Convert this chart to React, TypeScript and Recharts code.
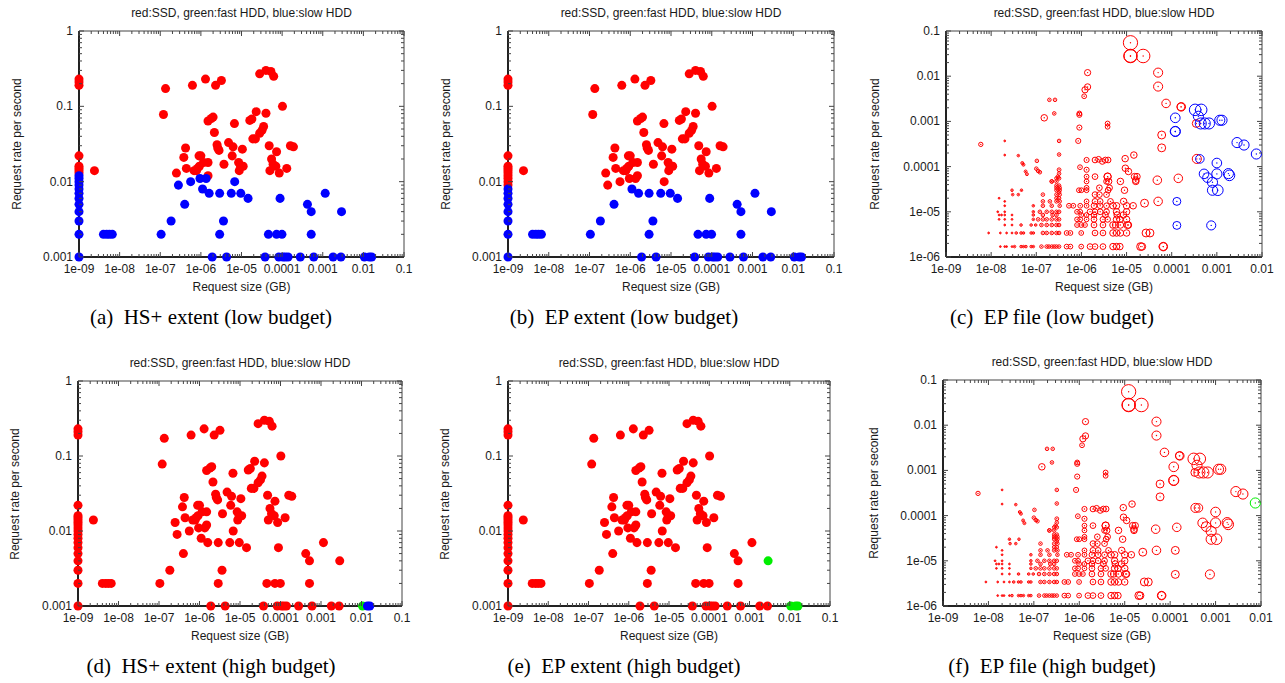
import React from 'react';
import { ScatterChart, Scatter, XAxis, YAxis, ZAxis, ReferenceArea } from 'recharts';

type Pt = [number, number];
type Bub = [number, number, number];

// axis ticks
const extentXMajors = [1e-9, 1e-8, 1e-7, 1e-6, 1e-5, 1e-4, 1e-3, 1e-2, 1e-1];
const extentXLabels = ['1e-09', '1e-08', '1e-07', '1e-06', '1e-05', '0.0001', '0.001', '0.01', '0.1'];
const extentYMajors = [1e-3, 1e-2, 1e-1, 1];
const extentYLabels = ['0.001', '0.01', '0.1', '1'];
const fileXMajors = [1e-9, 1e-8, 1e-7, 1e-6, 1e-5, 1e-4, 1e-3, 1e-2];
const fileXLabels = ['1e-09', '1e-08', '1e-07', '1e-06', '1e-05', '0.0001', '0.001', '0.01'];
const fileYMajors = [1e-6, 1e-5, 1e-4, 1e-3, 1e-2, 1e-1];
const fileYLabels = ['1e-06', '1e-05', '0.0001', '0.001', '0.01', '0.1'];
const minorSteps = [2, 3, 4, 5, 6, 7, 8, 9];

// extent plots: [request size GB, request rate]
const extentRedAll: Pt[] = [
  [1e-9, 0.23], [1e-9, 0.21], [1e-9, 0.19], [1e-9, 0.022], [1e-9, 0.016], [1e-9, 0.015], [1e-9, 0.014], [1e-9, 0.013],
  [2.4e-9, 0.014], [1.2e-7, 0.078], [1.35e-7, 0.172], [2.5e-7, 0.013], [3.8e-7, 0.021], [4.2e-7, 0.028],
  [4.4e-7, 0.015], [6.2e-7, 0.19], [6.8e-7, 0.014], [7.8e-7, 0.014], [8.2e-7, 0.015], [9e-7, 0.022],
  [1.0e-6, 0.022], [9.2e-7, 0.016], [1.16e-6, 0.018], [1.5e-6, 0.018], [1.5e-6, 0.012], [1.3e-6, 0.23],
  [1.5e-6, 0.064], [1.8e-6, 0.069], [2.0e-6, 0.072], [2.15e-6, 0.045], [2.3e-6, 0.19], [2.5e-6, 0.031],
  [2.6e-6, 0.028], [2.8e-6, 0.026], [3.2e-6, 0.22], [3.7e-6, 0.017], [4.8e-6, 0.033], [5.9e-6, 0.022],
  [6.2e-6, 0.029], [6.7e-6, 0.059], [8.5e-6, 0.018], [8.8e-6, 0.014], [9.5e-6, 0.016], [1.05e-5, 0.027],
  [1.1e-5, 0.016], [1.6e-5, 0.065], [1.8e-5, 0.068], [1.9e-5, 0.037], [2.2e-5, 0.037], [2.3e-5, 0.085],
  [2.8e-5, 0.27], [2.8e-5, 0.044], [3.2e-5, 0.048], [3.5e-5, 0.054], [4e-5, 0.081], [4e-5, 0.3],
  [4.8e-5, 0.03], [5e-5, 0.014], [5.3e-5, 0.29], [5.5e-5, 0.02], [6e-5, 0.017], [6.2e-5, 0.25],
  [7e-5, 0.016], [7.3e-5, 0.025], [8.5e-5, 0.013], [1.02e-4, 0.1], [1.3e-4, 0.015], [1.6e-4, 0.03],
  [1.9e-4, 0.029],
];
// blue only in (a)
const extentBlueOnlyA: Pt[] = [
  [1e-9, 0.012], [1e-9, 0.011], [1e-9, 0.01], [1e-9, 0.009],
  [2.8e-7, 0.009], [5.6e-7, 0.01], [9.5e-7, 0.011], [1.35e-6, 0.011], [6.8e-6, 0.01],
];
// blue in (a) and (b)
const extentBlueLow: Pt[] = [
  [1e-9, 0.008], [1e-9, 0.007], [1e-9, 0.006], [1e-9, 0.005], [1e-9, 0.004], [1e-9, 0.003], [1e-9, 0.002], [1e-9, 0.001],
  [4e-9, 0.002], [4.8e-9, 0.002], [5.6e-9, 0.002], [6.6e-9, 0.002], [1.05e-7, 0.002], [1.85e-7, 0.003],
  [4e-7, 0.005], [1.1e-6, 0.008], [1.6e-6, 0.007], [2.9e-6, 0.007], [5.6e-6, 0.007], [9.6e-6, 0.007],
  [1.45e-5, 0.006], [8.9e-5, 0.006], [2.9e-6, 0.002], [3.6e-6, 0.003], [4.6e-5, 0.002], [7.3e-5, 0.002],
  [9.9e-5, 0.002], [4.2e-4, 0.005], [5.2e-4, 0.004], [5.2e-4, 0.002], [1.15e-3, 0.007],
  [1.9e-6, 0.001], [4.3e-6, 0.001], [3.8e-5, 0.001], [8.3e-5, 0.001], [1.05e-4, 0.001], [1.2e-4, 0.001],
  [1.4e-4, 0.001], [2.8e-4, 0.001], [6e-4, 0.001], [1.8e-3, 0.001], [2.8e-3, 0.001],
];
const extentMid: Pt[] = [[2.9e-3, 0.004]];
const extentLargeA: Pt[] = [[1.06e-2, 0.001]];
const extentLargeB: Pt[] = [[1.4e-2, 0.001], [1.6e-2, 0.001]];

// file plots: [request size GB, request rate, relative weight]
const fileRedAll: Bub[] = [
  // 1.7e-6
  [1.6e-8, 1.7e-6, 0], [2.0e-8, 1.7e-6, 0], [2.2e-8, 1.7e-6, 0], [2.9e-8, 1.7e-6, 0], [3.3e-8, 1.7e-6, 0.2],
  [4.6e-8, 1.7e-6, 0.2], [5.2e-8, 1.7e-6, 0.2], [5.9e-8, 1.7e-6, 0.2], [7.7e-8, 1.7e-6, 0.2], [8.6e-8, 1.7e-6, 0.2],
  [1.3e-7, 1.7e-6, 0.5], [1.7e-7, 1.7e-6, 0.5], [1.9e-7, 1.7e-6, 0.5], [2.2e-7, 1.7e-6, 0.5], [2.5e-7, 1.7e-6, 0.5],
  [2.8e-7, 1.7e-6, 0.5], [3.2e-7, 1.7e-6, 0.5], [4.7e-7, 1.7e-6, 1], [5.7e-7, 1.7e-6, 1], [9.9e-7, 1.7e-6, 1],
  [1.55e-6, 1.7e-6, 1.5], [2e-6, 1.7e-6, 1.5], [3e-6, 1.7e-6, 1.5], [5e-6, 1.7e-6, 2], [6e-6, 1.7e-6, 2],
  [7.1e-6, 1.7e-6, 2], [2.05e-5, 1.7e-6, 3], [6.5e-5, 1.7e-6, 3.5], [6.5e-5, 1.7e-6, 3],
  // 3.4e-6
  [8.8e-9, 3.4e-6, 0], [1.6e-8, 3.4e-6, 0], [2.2e-8, 3.4e-6, 0], [2.9e-8, 3.4e-6, 0], [3.6e-8, 3.4e-6, 0.2],
  [4.6e-8, 3.4e-6, 0.2], [5.2e-8, 3.4e-6, 0.2], [7.7e-8, 3.4e-6, 0.2], [8.6e-8, 3.4e-6, 0.2], [1.4e-7, 3.4e-6, 0.5],
  [1.7e-7, 3.4e-6, 0.5], [2.2e-7, 3.4e-6, 0.5], [2.8e-7, 3.4e-6, 0.5], [3.2e-7, 3.4e-6, 0.5], [4.7e-7, 3.4e-6, 1],
  [5.7e-7, 3.4e-6, 1], [9.9e-7, 3.4e-6, 1], [2e-6, 3.4e-6, 1.5], [3e-6, 3.4e-6, 1.5], [5e-6, 3.4e-6, 2],
  [6e-6, 3.4e-6, 2], [7.3e-6, 3.4e-6, 2], [1e-5, 3.4e-6, 2], [2.7e-5, 3.4e-6, 3], [3.3e-5, 3.4e-6, 3],
  // 5.1e-6
  [2e-8, 5.1e-6, 0], [2.9e-8, 5.1e-6, 0], [4.6e-8, 5.1e-6, 0.2], [7.7e-8, 5.1e-6, 0.2], [9.7e-8, 5.1e-6, 0.2],
  [1.3e-7, 5.1e-6, 0.5], [1.7e-7, 5.1e-6, 0.5], [2.2e-7, 5.1e-6, 0.5], [2.8e-7, 5.1e-6, 0.5], [3.2e-7, 5.1e-6, 0.5],
  [8e-7, 5.1e-6, 1], [9.9e-7, 5.1e-6, 1], [1.2e-6, 5.1e-6, 1], [1.9e-6, 5.1e-6, 1.5], [3e-6, 5.1e-6, 1.5],
  [5e-6, 5.1e-6, 2], [5.7e-6, 5.1e-6, 2], [7.3e-6, 5.1e-6, 2], [1.05e-5, 5.1e-6, 2.5], [1.1e-5, 5.1e-6, 2],
  // 6.8e-6
  [1.5e-8, 6.8e-6, 0], [2e-8, 6.8e-6, 0], [2.9e-8, 6.8e-6, 0], [8.6e-8, 6.8e-6, 0.2], [1.1e-7, 6.8e-6, 0.5],
  [1.4e-7, 6.8e-6, 0.5], [1.7e-7, 6.8e-6, 0.5], [2.2e-7, 6.8e-6, 0.5], [2.8e-7, 6.8e-6, 0.5], [3.2e-7, 6.8e-6, 0.5],
  [8e-7, 6.8e-6, 1], [9.4e-7, 6.8e-6, 1], [1.3e-6, 6.8e-6, 1], [1.9e-6, 6.8e-6, 1.5], [3e-6, 6.8e-6, 1.5],
  [3.8e-6, 6.8e-6, 1.5], [6e-6, 6.8e-6, 2], [7.1e-6, 6.8e-6, 2], [1e-5, 6.8e-6, 2],
  // 8.5e-6
  [1.5e-8, 8.5e-6, 0], [1.7e-8, 8.5e-6, 0], [2e-8, 8.5e-6, 0], [2.9e-8, 8.5e-6, 0], [8.6e-8, 8.5e-6, 0.2],
  [1.4e-7, 8.5e-6, 0.5], [2.3e-7, 8.5e-6, 0.5], [2.8e-7, 8.5e-6, 0.5], [9.9e-7, 8.5e-6, 1], [1.3e-6, 8.5e-6, 1],
  [1.9e-6, 8.5e-6, 1.5], [3.4e-6, 8.5e-6, 1.5], [6.2e-6, 8.5e-6, 2], [8.5e-6, 8.5e-6, 2],
  // 1e-5
  [1.4e-8, 1e-5, 0], [2e-8, 1e-5, 0], [8.6e-8, 1e-5, 0.2], [1.2e-7, 1e-5, 0.5], [1.7e-7, 1e-5, 0.5],
  [2.2e-7, 1e-5, 0.5], [2.8e-7, 1e-5, 0.5], [3.2e-7, 1e-5, 0.5], [8e-7, 1e-5, 1], [9.4e-7, 1e-5, 1],
  [1.55e-6, 1e-5, 1.5], [2e-6, 1e-5, 1.5], [2.6e-6, 1e-5, 1.5], [3.6e-6, 1e-5, 1.5], [6e-6, 1e-5, 2], [1e-5, 1e-5, 2],
  // 1.36e-5
  [2e-8, 1.36e-5, 0], [8.6e-8, 1.36e-5, 0.2], [1.4e-7, 1.36e-5, 0.5], [2.2e-7, 1.36e-5, 0.5], [3.3e-7, 1.36e-5, 0.5],
  [5.3e-7, 1.36e-5, 1], [6.6e-7, 1.36e-5, 1], [9.4e-7, 1.36e-5, 1], [1.3e-6, 1.36e-5, 1], [1.9e-6, 1.36e-5, 1.5],
  [2.6e-6, 1.36e-5, 1.5], [3.6e-6, 1.36e-5, 1.5], [5e-6, 1.36e-5, 2], [6e-6, 1.36e-5, 2], [1e-5, 1.36e-5, 2],
  [1.4e-5, 1.36e-5, 2],
  // 1.7e-5 and up
  [2e-8, 1.7e-5, 0], [1.4e-7, 1.7e-5, 0.5], [2e-7, 1.7e-5, 0.5], [2.8e-7, 1.7e-5, 0.5], [3.3e-7, 1.7e-5, 0.5],
  [1.3e-6, 1.7e-5, 1], [2e-6, 1.7e-5, 1.5], [2.6e-6, 1.7e-5, 1.5], [4.4e-6, 1.7e-5, 1.5], [8.6e-6, 1.7e-5, 2],
  [4e-8, 2.4e-5, 0.2], [1.4e-7, 2.4e-5, 0.5], [2.8e-7, 2.4e-5, 0.5], [3.3e-7, 2.4e-5, 0.5], [2e-6, 2.4e-5, 1.5],
  [2.5e-6, 2.4e-5, 1.5], [3.6e-6, 2.4e-5, 1.5],
  [2.9e-8, 3e-5, 0.2], [2.8e-7, 3e-5, 0.5], [3.3e-7, 3e-5, 0.5], [8.8e-7, 3e-5, 1], [1e-6, 3e-5, 1],
  [1.3e-6, 3e-5, 1], [3.9e-6, 3e-5, 1.5], [9e-6, 3e-5, 2],
  [2.8e-7, 3.4e-5, 0.5], [3.3e-7, 3.4e-5, 0.5], [1.3e-6, 3.4e-5, 1], [2.5e-6, 3.4e-5, 1.5], [4.2e-6, 3.4e-5, 1.5],
  [2.2e-7, 4.7e-5, 0.5], [2.8e-7, 4.7e-5, 0.5], [1.3e-6, 4.7e-5, 1], [3.6e-6, 4.7e-5, 1.5], [7.3e-6, 4.7e-5, 2],
  [1.6e-5, 4.7e-5, 2],
  [3e-7, 6e-5, 0.5], [1.3e-6, 6e-5, 1], [2e-6, 6e-5, 1.5], [3.8e-6, 6e-5, 2.5], [1.7e-5, 6e-5, 2],
  [3.2e-7, 2e-5, 0.5], [3.2e-7, 2.7e-5, 0.5], [3.2e-7, 3.8e-5, 0.5], [3.2e-7, 5.5e-5, 0.5], [3.2e-7, 7e-5, 0.5],
  [2.8e-7, 2e-5, 0.5], [2.8e-7, 3.8e-5, 0.5], [2.8e-7, 5.5e-5, 0.5],
  // sparse upper points
  [5.9e-9, 3.1e-4, 0.8], [2e-8, 3.7e-4, 0], [2e-8, 1.8e-4, 0], [4e-8, 1.75e-4, 0.2], [4.9e-8, 1.2e-4, 0.3],
  [5.2e-8, 1.1e-4, 0.3], [5.8e-8, 7.8e-5, 0.3], [6.2e-8, 6.8e-5, 0.3], [1.03e-7, 1.34e-4, 0.5], [1e-7, 9e-5, 0.5],
  [1.1e-7, 8e-5, 0.5], [1.2e-7, 7.5e-5, 0.5], [3.2e-7, 3.7e-4, 0.5], [3.2e-7, 1.85e-4, 0.5], [3.2e-7, 8.5e-5, 0.6],
  [2.2e-7, 4.7e-5, 0.5], [1.5e-8, 2e-5, 0], [3e-8, 2.4e-5, 0.2], [4.7e-8, 3e-5, 0.2],
  [1.95e-7, 0.003, 0.5], [2.6e-7, 0.003, 0.5], [2.5e-7, 0.0015, 0.5], [1.5e-7, 0.0012, 2],
  [9e-7, 0.0014, 1.2], [9e-7, 0.0015, 1], [9e-7, 0.00073, 1.2], [8.5e-7, 0.00037, 1.2],
  [1.37e-6, 0.012, 1.8], [1.2e-6, 0.005, 1.8], [1.37e-6, 0.0058, 1.8], [1.15e-6, 0.0036, 1],
  [3.8e-6, 0.0009, 1], [3.8e-6, 0.00076, 1],
  [9.3e-7, 9.7e-5, 1], [1.3e-6, 1.4e-4, 1.2], [1.3e-6, 8.5e-5, 1.2], [2e-6, 1.4e-4, 1.5], [2.4e-6, 1.45e-4, 1.5],
  [2.9e-6, 1.3e-4, 1.5], [3.4e-6, 1.4e-4, 1.5], [3.9e-6, 1.4e-4, 1.5], [3.8e-6, 6e-5, 2.5], [4e-6, 4.7e-5, 2],
  [9.3e-6, 1.5e-4, 2], [1.45e-5, 1.8e-4, 2], [9.4e-6, 9.2e-5, 2], [1.1e-5, 7.8e-5, 2], [1.5e-5, 6e-5, 2],
  [1.6e-5, 5e-5, 2],
  // large requests
  [1.22e-5, 0.055, 10], [1.22e-5, 0.028, 9], [1.22e-5, 0.028, 8], [2.33e-5, 0.028, 9], [5e-5, 0.012, 4],
  [5e-5, 0.0059, 4], [7.5e-5, 0.0025, 3.5], [1.63e-4, 0.0021, 3.5], [1.6e-4, 0.0021, 3], [6e-5, 0.0005, 3],
  [6e-5, 0.00026, 3], [3.5e-4, 0.0009, 3], [3.6e-4, 0.000148, 4], [1.4e-4, 5.5e-5, 3.5], [4.8e-5, 5e-5, 3.5],
  [5e-5, 1.7e-5, 3.5], [2.5e-5, 1.55e-5, 3], [2.2e-5, 1.7e-6, 2.5],
];
// blue in (c), red in (f)
const fileBlueC: Bub[] = [
  [1.2e-4, 0.0012, 4.5], [1.2e-4, 0.0006, 5], [1.2e-4, 0.0006, 4.5], [3.3e-4, 0.0018, 6.5], [4.5e-4, 0.0018, 6.5],
  [3.9e-4, 0.0013, 5], [4.4e-4, 0.0009, 6], [5.4e-4, 0.0009, 6], [6.7e-4, 0.0009, 6], [1.16e-3, 0.00106, 5],
  [1.3e-3, 0.00106, 5], [2.8e-3, 0.00034, 5], [4e-3, 0.0003, 5], [4.2e-4, 0.000148, 3.5], [5.2e-4, 6.9e-5, 4.5],
  [6.2e-4, 5.7e-5, 4.5], [1.0e-3, 1.2e-4, 4.5], [1.0e-3, 6.9e-5, 5], [1.9e-3, 6.4e-5, 5.5], [1.8e-3, 7e-5, 5],
  [8e-4, 4.5e-5, 5], [8e-4, 3e-5, 5], [1.05e-3, 3e-5, 5.5], [1.3e-4, 1.7e-5, 3], [1.3e-4, 5e-6, 3],
  [7.5e-4, 5e-6, 4],
];
// blue in (c), green in (f)
const fileLargest: Bub[] = [[7.5e-3, 1.9e-4, 5]];

const RED = '#ff0000';
const GREEN = '#00ee00';
const BLUE = '#0000ff';
const SANS = '"Liberation Sans", Arial, Helvetica, sans-serif';
const SERIF = '"Liberation Serif", "Times New Roman", serif';
const TITLE = 'red:SSD, green:fast HDD, blue:slow HDD';

const withMinors = (majors: number[]) => {
  const out: number[] = [];
  majors.forEach((m, i) => {
    out.push(m);
    if (i < majors.length - 1) minorSteps.forEach((s) => out.push(m * s));
  });
  return out;
};
const majorIndex = (v: number, majors: number[]) => majors.findIndex((m) => Math.abs(v / m - 1) < 1e-6);
const pts = (list: Pt[]) => list.map((p) => ({ x: p[0], y: p[1] }));
const bubs = (list: Bub[]) => list.map((p) => ({ x: p[0], y: p[1], z: p[2] }));

const XTick = (props: any) => {
  const { x, y, payload, span, majors, labels } = props;
  const i = majorIndex(payload.value, majors);
  const len = i >= 0 ? 5 : 3;
  return (
    <g>
      <line x1={x} y1={y} x2={x} y2={y - len} stroke="#444" />
      <line x1={x} y1={y - span} x2={x} y2={y - span + len} stroke="#444" />
      {i >= 0 && (
        <text x={x} y={y + 16} textAnchor="middle" fontSize={12} fill="#1a1a1a" fontFamily={SANS}>
          {labels[i]}
        </text>
      )}
    </g>
  );
};

const YTick = (props: any) => {
  const { x, y, payload, span, majors, labels } = props;
  const i = majorIndex(payload.value, majors);
  const len = i >= 0 ? 5 : 3;
  return (
    <g>
      <line x1={x} y1={y} x2={x + len} y2={y} stroke="#444" />
      <line x1={x + span} y1={y} x2={x + span - len} y2={y} stroke="#444" />
      {i >= 0 && (
        <text x={x - 6} y={y + 4} textAnchor="end" fontSize={12} fill="#1a1a1a" fontFamily={SANS}>
          {labels[i]}
        </text>
      )}
    </g>
  );
};

const dotShape = (color: string) => (p: any) => (
  <circle cx={p.cx} cy={p.cy} r={p.width ? p.width / 2 : 4.5} fill={color} />
);
const ringShape = (color: string) => (p: any) => {
  const r = Math.max(p.width ? p.width / 2 : 1, 0.9);
  return (
    <g>
      <circle cx={p.cx} cy={p.cy} r={r} fill="none" stroke={color} strokeWidth={1} />
      <circle cx={p.cx} cy={p.cy} r={0.7} fill={color} />
    </g>
  );
};

type Series = { color: string; data: any[] };
type PanelCfg = {
  plot: { x: number; y: number; w: number; h: number };
  file: boolean;
  series: Series[];
  caption: string;
  captionX: number;
  yGap: number;
};

const panels: PanelCfg[] = [
  {
    plot: { x: 79, y: 31, w: 325, h: 226 }, file: false, yGap: 62, caption: '(a)  HS+ extent (low budget)', captionX: 211,
    series: [
      { color: RED, data: pts(extentRedAll) },
      { color: BLUE, data: pts([...extentBlueOnlyA, ...extentBlueLow, ...extentMid, ...extentLargeA, ...extentLargeB]) },
    ],
  },
  {
    plot: { x: 508, y: 31, w: 326, h: 226 }, file: false, yGap: 62, caption: '(b)  EP extent (low budget)', captionX: 624,
    series: [
      { color: RED, data: pts([...extentRedAll, ...extentBlueOnlyA]) },
      { color: BLUE, data: pts([...extentBlueLow, ...extentMid, ...extentLargeA, ...extentLargeB]) },
    ],
  },
  {
    plot: { x: 946, y: 31, w: 316, h: 226 }, file: true, yGap: 71, caption: '(c)  EP file (low budget)', captionX: 1052,
    series: [
      { color: RED, data: bubs(fileRedAll) },
      { color: BLUE, data: bubs([...fileBlueC, ...fileLargest]) },
    ],
  },
  {
    plot: { x: 78, y: 381, w: 324, h: 225 }, file: false, yGap: 63, caption: '(d)  HS+ extent (high budget)', captionX: 211,
    series: [
      { color: RED, data: pts([...extentRedAll, ...extentBlueOnlyA, ...extentBlueLow, ...extentMid]) },
      { color: GREEN, data: pts(extentLargeA) },
      { color: BLUE, data: pts(extentLargeB) },
    ],
  },
  {
    plot: { x: 508, y: 381, w: 322, h: 225 }, file: false, yGap: 63, caption: '(e)  EP extent (high budget)', captionX: 624,
    series: [
      { color: RED, data: pts([...extentRedAll, ...extentBlueOnlyA, ...extentBlueLow]) },
      { color: GREEN, data: pts([...extentMid, ...extentLargeA, ...extentLargeB]) },
    ],
  },
  {
    plot: { x: 943, y: 380, w: 318, h: 226 }, file: true, yGap: 69, caption: '(f)  EP file (high budget)', captionX: 1052,
    series: [
      { color: RED, data: bubs([...fileRedAll, ...fileBlueC]) },
      { color: GREEN, data: bubs(fileLargest) },
    ],
  },
];

const ML = 90;
const MT = 31;
const MR = 20;
const MB = 29;

function Panel({ cfg }: { cfg: PanelCfg }) {
  const { plot, file, series, caption, captionX, yGap } = cfg;
  const xMajors = file ? fileXMajors : extentXMajors;
  const xLabels = file ? fileXLabels : extentXLabels;
  const yMajors = file ? fileYMajors : extentYMajors;
  const yLabels = file ? fileYLabels : extentYLabels;
  const xDomain = [xMajors[0], xMajors[xMajors.length - 1]];
  const yDomain = [yMajors[0], yMajors[yMajors.length - 1]];
  const W = plot.w + ML + MR;
  const H = plot.h + MT + MB;
  const bottom = plot.y + plot.h;
  const shape = file ? ringShape : dotShape;

  return (
    <>
      <div style={{ position: 'absolute', left: plot.x - ML, top: plot.y - MT, width: W, height: H }}>
        <ScatterChart width={W} height={H} margin={{ top: MT, left: ML - 1, right: MR, bottom: MB - 1 }}>
          <XAxis
            dataKey="x"
            type="number"
            scale="log"
            domain={xDomain}
            ticks={withMinors(xMajors)}
            interval={0}
            height={1}
            tickSize={0}
            tickMargin={0}
            tickLine={false}
            axisLine={{ stroke: '#222', strokeWidth: 2 }}
            tick={(p: any) => <XTick {...p} span={plot.h} majors={xMajors} labels={xLabels} />}
          />
          <YAxis
            dataKey="y"
            type="number"
            scale="log"
            domain={yDomain}
            ticks={withMinors(yMajors)}
            interval={0}
            width={1}
            tickSize={0}
            tickMargin={0}
            tickLine={false}
            axisLine={{ stroke: '#222', strokeWidth: 2 }}
            tick={(p: any) => <YTick {...p} span={plot.w} majors={yMajors} labels={yLabels} />}
          />
          {file && <ZAxis dataKey="z" type="number" domain={[0, 10]} range={[2, 160]} />}
          <ReferenceArea
            x1={xDomain[0]}
            x2={xDomain[1]}
            y1={yDomain[0]}
            y2={yDomain[1]}
            fill="none"
            fillOpacity={0}
            stroke="#444"
            strokeWidth={1}
          />
          {series.map((s, i) => (
            <Scatter key={i} data={s.data} shape={shape(s.color)} isAnimationActive={false} />
          ))}
        </ScatterChart>
      </div>
      <div style={{ position: 'absolute', left: plot.x, top: plot.y - 25, width: plot.w, textAlign: 'center', fontSize: 12, lineHeight: '14px', fontFamily: SANS, color: '#1a1a1a' }}>
        {TITLE}
      </div>
      <div style={{ position: 'absolute', left: plot.x, top: bottom + 23, width: plot.w, textAlign: 'center', fontSize: 12, lineHeight: '14px', fontFamily: SANS, color: '#1a1a1a' }}>
        Request size (GB)
      </div>
      <div style={{ position: 'absolute', left: plot.x - yGap - 100, top: plot.y + plot.h / 2 - 7, width: 200, textAlign: 'center', fontSize: 12, lineHeight: '14px', fontFamily: SANS, color: '#1a1a1a', transform: 'rotate(-90deg)' }}>
        Request rate per second
      </div>
      <div style={{ position: 'absolute', left: captionX - 200, top: bottom + 48, width: 400, textAlign: 'center', fontSize: 21, lineHeight: '24px', fontFamily: SERIF, color: '#000', whiteSpace: 'pre' }}>
        {caption}
      </div>
    </>
  );
}

export default function App() {
  return (
    <div style={{ position: 'absolute', left: 0, top: 0, width: 1285, height: 683, background: '#fff', overflow: 'hidden' }}>
      {panels.map((p, i) => (
        <Panel key={i} cfg={p} />
      ))}
    </div>
  );
}
